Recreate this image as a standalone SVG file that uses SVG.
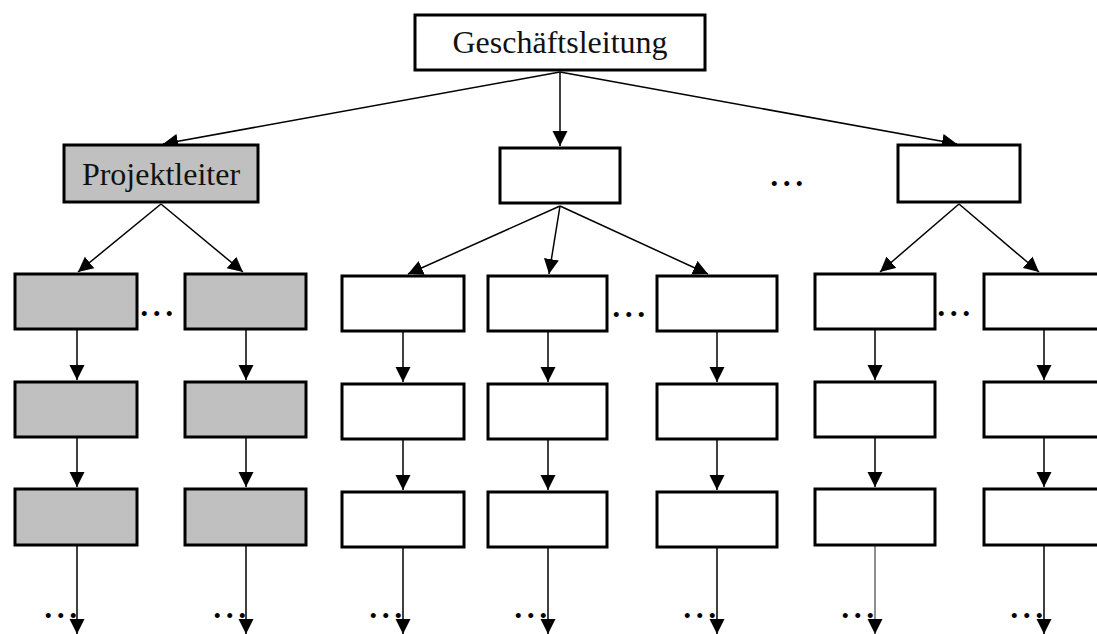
<svg xmlns="http://www.w3.org/2000/svg" width="1097" height="634" viewBox="0 0 1097 634">
  <style>
    .box { fill: #ffffff; stroke: #000000; stroke-width: 3; }
    .pl { fill: #c0c0c0; }
    .lbl { font-family: "Liberation Serif", "Times New Roman", serif; font-size: 32px; fill: #111111; text-anchor: middle; }
    .dots { font-family: "Liberation Serif", "Times New Roman", serif; font-size: 42px; fill: #000000; letter-spacing: 2px; }
    .edge { fill: none; stroke: #000000; stroke-width: 1.5; marker-end: url(#head); }
    .faint { stroke: #6a6a6a; }
  </style>
  <defs>
    <marker id="head" markerUnits="userSpaceOnUse" markerWidth="16" markerHeight="16" refX="15" refY="8" orient="auto">
      <path d="M0,0.5 L15,8 L0,15.5 Z" fill="#000000"/>
    </marker>
  </defs>
  <rect width="1097" height="634" fill="#ffffff"/>

  <!-- connectors -->
  <g id="connectors">
    <!-- top level -->
    <line class="edge" x1="560" y1="72" x2="163" y2="144"/>
    <line class="edge" x1="560" y1="72" x2="560" y2="146"/>
    <line class="edge" x1="560" y1="72" x2="957" y2="144"/>
    <!-- Projektleiter -->
    <line class="edge" x1="161" y1="204" x2="78" y2="272"/>
    <line class="edge" x1="161" y1="204" x2="243" y2="272"/>
    <!-- middle branch -->
    <line class="edge" x1="560" y1="206" x2="408" y2="274"/>
    <line class="edge" x1="560" y1="206" x2="549" y2="274"/>
    <line class="edge" x1="560" y1="206" x2="708" y2="274"/>
    <!-- right branch -->
    <line class="edge" x1="959" y1="204" x2="880" y2="272"/>
    <line class="edge" x1="959" y1="204" x2="1039" y2="272"/>
    <!-- column A -->
    <line class="edge" x1="77" y1="330" x2="77" y2="380"/>
    <line class="edge" x1="77" y1="438" x2="77" y2="487"/>
    <line class="edge" x1="77" y1="546" x2="77" y2="634"/>
    <!-- column B -->
    <line class="edge" x1="246" y1="330" x2="246" y2="380"/>
    <line class="edge" x1="246" y1="438" x2="246" y2="487"/>
    <line class="edge" x1="246" y1="546" x2="246" y2="634"/>
    <!-- column C -->
    <line class="edge" x1="403" y1="332" x2="403" y2="382"/>
    <line class="edge" x1="403" y1="440" x2="403" y2="490"/>
    <line class="edge" x1="403" y1="548" x2="403" y2="634"/>
    <!-- column D -->
    <line class="edge" x1="548" y1="332" x2="548" y2="382"/>
    <line class="edge" x1="548" y1="440" x2="548" y2="490"/>
    <line class="edge" x1="548" y1="548" x2="548" y2="634"/>
    <!-- column E -->
    <line class="edge" x1="717" y1="332" x2="717" y2="382"/>
    <line class="edge" x1="717" y1="440" x2="717" y2="490"/>
    <line class="edge" x1="717" y1="548" x2="717" y2="634"/>
    <!-- column F -->
    <line class="edge" x1="875" y1="330" x2="875" y2="380"/>
    <line class="edge" x1="875" y1="438" x2="875" y2="487"/>
    <line class="edge faint" x1="875" y1="546" x2="875" y2="634"/>
    <!-- column G -->
    <line class="edge" x1="1044" y1="330" x2="1044" y2="380"/>
    <line class="edge" x1="1044" y1="438" x2="1044" y2="487"/>
    <line class="edge" x1="1044" y1="546" x2="1044" y2="634"/>
  </g>

  <!-- top node -->
  <g id="geschaeftsleitung">
    <rect class="box" x="415" y="15" width="290" height="55"/>
    <text class="lbl" x="560" y="53">Geschäftsleitung</text>
  </g>

  <!-- second level -->
  <g id="projektleiter">
    <rect class="box pl" x="64" y="145" width="194" height="57"/>
    <text class="lbl" x="161" y="185">Projektleiter</text>
  </g>
  <g id="bereich-mitte">
    <rect class="box" x="500" y="148" width="120" height="55"/>
  </g>
  <g id="bereich-rechts">
    <rect class="box" x="898" y="145" width="122" height="57"/>
  </g>
  <text class="dots" x="769" y="186">...</text>

  <!-- column A (project) -->
  <g id="a1"><rect class="box pl" x="15" y="274" width="122" height="55"/></g>
  <g id="a2"><rect class="box pl" x="15" y="382" width="122" height="55"/></g>
  <g id="a3"><rect class="box pl" x="15" y="489" width="122" height="56"/></g>
  <!-- column B (project) -->
  <g id="b1"><rect class="box pl" x="185" y="274" width="121" height="55"/></g>
  <g id="b2"><rect class="box pl" x="185" y="382" width="121" height="55"/></g>
  <g id="b3"><rect class="box pl" x="185" y="489" width="121" height="56"/></g>
  <!-- column C -->
  <g id="c1"><rect class="box" x="342" y="276" width="122" height="55"/></g>
  <g id="c2"><rect class="box" x="342" y="384" width="122" height="55"/></g>
  <g id="c3"><rect class="box" x="342" y="492" width="122" height="55"/></g>
  <!-- column D -->
  <g id="d1"><rect class="box" x="488" y="276" width="119" height="55"/></g>
  <g id="d2"><rect class="box" x="488" y="384" width="119" height="55"/></g>
  <g id="d3"><rect class="box" x="488" y="492" width="119" height="55"/></g>
  <!-- column E -->
  <g id="e1"><rect class="box" x="657" y="276" width="120" height="55"/></g>
  <g id="e2"><rect class="box" x="657" y="384" width="120" height="55"/></g>
  <g id="e3"><rect class="box" x="657" y="492" width="120" height="55"/></g>
  <!-- column F -->
  <g id="f1"><rect class="box" x="815" y="274" width="120" height="55"/></g>
  <g id="f2"><rect class="box" x="815" y="382" width="120" height="55"/></g>
  <g id="f3"><rect class="box" x="815" y="489" width="120" height="56"/></g>
  <!-- column G -->
  <g id="g1"><rect class="box" x="984" y="274" width="122" height="55"/></g>
  <g id="g2"><rect class="box" x="984" y="382" width="122" height="55"/></g>
  <g id="g3"><rect class="box" x="984" y="489" width="122" height="56"/></g>

  <!-- ellipses between sibling boxes -->
  <text class="dots" x="139" y="316">...</text>
  <text class="dots" x="611" y="317">...</text>
  <text class="dots" x="936" y="316">...</text>

  <!-- ellipses beside the open-ended arrows -->
  <text class="dots" x="43" y="618">...</text>
  <text class="dots" x="212" y="618">...</text>
  <text class="dots" x="368" y="618">...</text>
  <text class="dots" x="513" y="618">...</text>
  <text class="dots" x="682" y="618">...</text>
  <text class="dots" x="840" y="618">...</text>
  <text class="dots" x="1009" y="618">...</text>
</svg>
